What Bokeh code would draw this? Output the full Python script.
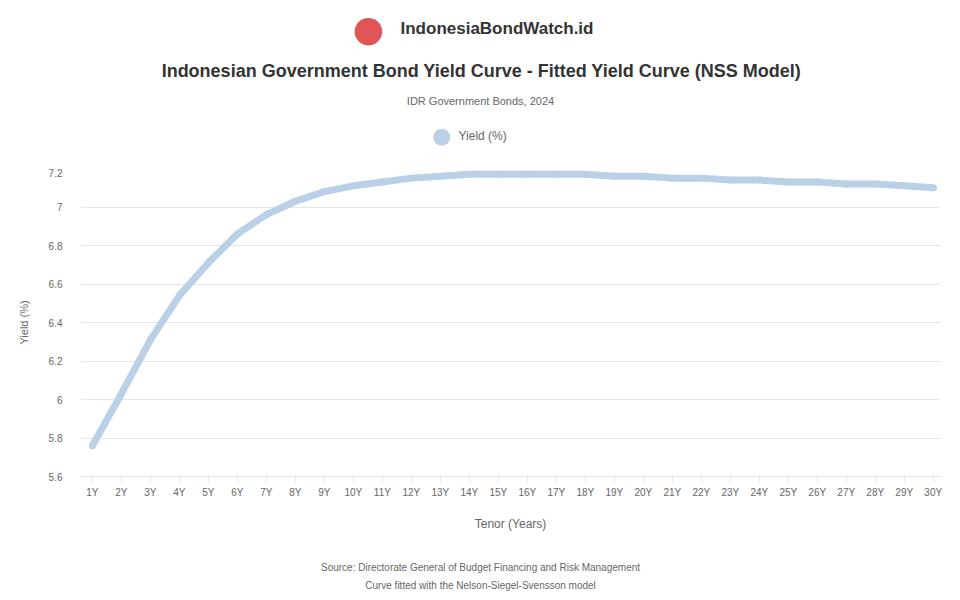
from bokeh.plotting import figure
from bokeh.layouts import column
from bokeh.models import Label, FixedTicker, ColumnDataSource
from bokeh.embed import file_html
from bokeh.resources import INLINE

# ---- data ----
maturity_years = [1, 2, 3, 4, 5, 6, 7, 8, 9, 10, 11, 12, 13, 14, 15,
                  16, 17, 18, 19, 20, 21, 22, 23, 24, 25, 26, 27, 28, 29, 30]
yield_pct = [5.76, 6.03, 6.31, 6.54, 6.71, 6.86, 6.96, 7.03, 7.08, 7.11,
             7.13, 7.15, 7.16, 7.17, 7.17, 7.17, 7.17, 7.17, 7.16, 7.16,
             7.15, 7.15, 7.14, 7.14, 7.13, 7.13, 7.12, 7.12, 7.11, 7.10]
y_ticks = [5.6, 5.8, 6.0, 6.2, 6.4, 6.6, 6.8, 7.0, 7.2]
x_tick_labels = {m: f"{m}Y" for m in maturity_years}

logo_text = "IndonesiaBondWatch.id"
title_text = "Indonesian Government Bond Yield Curve - Fitted Yield Curve (NSS Model)"
subtitle_text = "IDR Government Bonds, 2024"
series_name = "Yield (%)"
x_title = "Tenor (Years)"
y_title = "Yield (%)"
footer1 = "Source: Directorate General of Budget Financing and Risk Management"
footer2 = "Curve fitted with the Nelson-Siegel-Svensson model"

FONT = "Liberation Sans"
LINE_COLOR = "#bad0e6"
FRAME_LEFT = 80  # frames in the column are aligned to the main chart's frame


def blank_fig(h):
    f = figure(width=960, height=h, output_backend="svg", toolbar_location=None,
               x_axis_type=None, y_axis_type=None, x_range=(0, 1), y_range=(0, 1),
               min_border=0)
    f.outline_line_color = None
    return f


def add_label(f, x, y, text, color, size, bold=False, align="left", font=FONT):
    f.add_layout(Label(x=x - FRAME_LEFT, y=y, x_units="screen", y_units="screen",
                       text=text, text_color=color, text_font=font,
                       text_font_size=size,
                       text_font_style="bold" if bold else "normal",
                       text_align=align, text_baseline="middle"))


# ---- header (title, logo, legend) ----
head = blank_fig(168)
add_label(head, 368, 140, "●", "#e05555", "36px", align="center", font="DejaVu Sans")
add_label(head, 400, 140, logo_text, "#333333", "17px", bold=True)
add_label(head, 481, 98, title_text, "#333333", "18px", bold=True, align="center")
add_label(head, 480, 68, subtitle_text, "#666666", "11px", align="center")
add_label(head, 441, 33, "●", LINE_COLOR, "22px", align="center", font="DejaVu Sans")
add_label(head, 458, 33, series_name, "#666666", "12px")

# ---- main chart ----
p = figure(width=960, height=377, output_backend="svg", toolbar_location=None,
           x_range=(0.59, 30.25), y_range=(5.6, 7.2),
           min_border_left=80, min_border_right=20, min_border_top=0,
           min_border_bottom=69)
p.outline_line_color = None

src = ColumnDataSource(dict(x=maturity_years, y=yield_pct))
p.line("x", "y", source=src, line_color=LINE_COLOR, line_width=7,
       line_cap="round", line_join="round")
p.scatter("x", "y", source=src, size=7, fill_color=LINE_COLOR, line_color=None)

p.yaxis.ticker = FixedTicker(ticks=y_ticks)
p.yaxis.axis_line_color = None
p.yaxis.major_tick_line_color = None
p.yaxis.minor_tick_line_color = None
p.yaxis.major_label_text_color = "#666666"
p.yaxis.major_label_text_font = FONT
p.yaxis.major_label_text_font_size = "10px"
p.yaxis.axis_label = y_title
p.yaxis.axis_label_text_font = FONT
p.yaxis.axis_label_text_font_size = "11px"
p.yaxis.axis_label_text_font_style = "normal"
p.yaxis.axis_label_text_color = "#666666"
p.yaxis.major_label_standoff = 12
p.yaxis.axis_label_standoff = 16

p.xaxis.ticker = FixedTicker(ticks=maturity_years)
p.xaxis.major_label_overrides = x_tick_labels
p.xaxis.axis_line_color = "#e6e6e6"
p.xaxis.major_tick_line_color = "#e6e6e6"
p.xaxis.minor_tick_line_color = None
p.xaxis.major_label_text_color = "#666666"
p.xaxis.major_label_text_font = FONT
p.xaxis.major_label_text_font_size = "10px"
p.xaxis.major_label_standoff = 4
p.xaxis.axis_label = x_title
p.xaxis.axis_label_text_font = FONT
p.xaxis.axis_label_text_font_size = "12px"
p.xaxis.axis_label_text_font_style = "normal"
p.xaxis.axis_label_text_color = "#666666"
p.xaxis.axis_label_standoff = 16

p.xgrid.grid_line_color = None
p.ygrid.grid_line_color = "#e6e6e6"

# ---- footer ----
foot = blank_fig(55)
add_label(foot, 480, 33, footer1, "#666666", "10px", align="center")
add_label(foot, 480, 15, footer2, "#666666", "10px", align="center")

layout = column(head, p, foot, spacing=0)
open("out.html", "w").write(file_html(layout, INLINE))
